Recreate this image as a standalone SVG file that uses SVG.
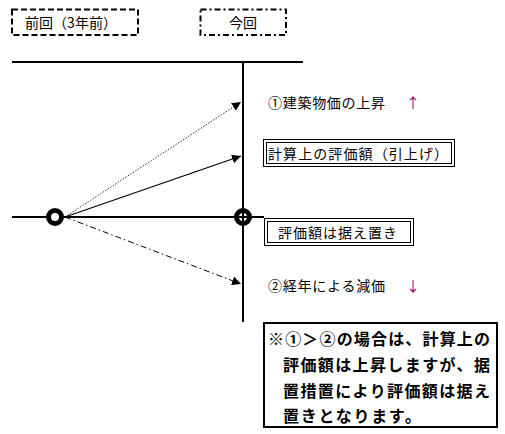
<svg xmlns="http://www.w3.org/2000/svg" width="505" height="434" viewBox="0 0 505 434">
<defs>
<style>
.t{font-family:"Noto Sans CJK JP","Noto Sans",sans-serif;font-size:14px;fill:#000}
.b{font-family:"Noto Sans CJK JP","Noto Sans",sans-serif;font-size:16px;font-weight:bold;fill:#000}
.ln{stroke:#000;stroke-width:2;fill:none}
.bx{stroke:#000;stroke-width:1;fill:#fff}
</style>
<marker id="ah" viewBox="0 0 10 10" refX="10" refY="5" markerWidth="9" markerHeight="9" markerUnits="userSpaceOnUse" orient="auto">
<path d="M0,0L10,5L0,10z" fill="#000"/>
</marker>
</defs>
<rect width="505" height="434" fill="#fff"/>
<g id="connectors">
<line class="ln" x1="12" y1="62" x2="303" y2="62"/>
<line class="ln" x1="243" y1="62" x2="243" y2="322"/>
<line class="ln" x1="12" y1="217" x2="264" y2="217"/>
<line x1="65" y1="217" x2="241" y2="102" stroke="#333" stroke-width="1" stroke-dasharray="1.5,1.5" marker-end="url(#ah)"/>
<line x1="65" y1="217" x2="241" y2="156" stroke="#000" stroke-width="1.2" marker-end="url(#ah)"/>
<line x1="65" y1="217" x2="241" y2="284" stroke="#000" stroke-width="1" stroke-dasharray="6,3,1.5,3" marker-end="url(#ah)"/>
</g>
<g id="prev">
<rect x="12" y="9.5" width="126" height="25.5" fill="none" stroke="#000" stroke-width="2" stroke-dasharray="6,3"/>
<text class="t" x="25" y="28" textLength="92" lengthAdjust="spacing">前回（3年前）</text>
</g>
<g id="now">
<rect x="200.5" y="9.5" width="85.5" height="25.5" fill="none" stroke="#000" stroke-width="2" stroke-dasharray="6,3,2,3"/>
<text class="t" x="243" y="28" text-anchor="middle">今回</text>
</g>
<g id="pt-prev">
<circle cx="55" cy="217" r="6.5" fill="#fff" stroke="#000" stroke-width="5"/>
</g>
<g id="pt-now">
<circle cx="243" cy="217" r="6.5" fill="#fff" stroke="#000" stroke-width="5"/>
<line x1="237" y1="217" x2="249" y2="217" stroke="#000" stroke-width="2"/>
<line x1="243" y1="211" x2="243" y2="223" stroke="#000" stroke-width="2"/>
</g>
<g id="rise">
<text class="t" x="268" y="108" textLength="117" lengthAdjust="spacing">①建築物価の上昇</text>
<text class="t" x="406" y="108" style="fill:#800080">↑</text>
</g>
<g id="calc">
<rect class="bx" x="263.5" y="139.5" width="191" height="27"/>
<rect class="bx" x="266.5" y="142.5" width="185" height="21" fill="none"/>
<text class="t" x="268" y="159" textLength="180" lengthAdjust="spacing">計算上の評価額（引上げ）</text>
</g>
<g id="keep">
<rect class="bx" x="264.5" y="218.5" width="149" height="27"/>
<rect class="bx" x="267.5" y="221.5" width="143" height="21" fill="none"/>
<text class="t" x="278" y="238" textLength="119" lengthAdjust="spacing">評価額は据え置き</text>
</g>
<g id="fall">
<text class="t" x="268" y="291" textLength="117" lengthAdjust="spacing">②経年による減価</text>
<text class="t" x="406" y="291" style="fill:#800080">↓</text>
</g>
<g id="note">
<rect x="264" y="323" width="233" height="104" fill="#fff" stroke="#000" stroke-width="2"/>
<text class="b" x="268" y="345" textLength="222" lengthAdjust="spacing">※①＞②の場合は、計算上の</text>
<text class="b" x="283" y="371" textLength="207" lengthAdjust="spacing">評価額は上昇しますが、据</text>
<text class="b" x="283" y="397" textLength="207" lengthAdjust="spacing">置措置により評価額は据え</text>
<text class="b" x="283" y="422" textLength="138" lengthAdjust="spacing">置きとなります。</text>
</g>
</svg>
